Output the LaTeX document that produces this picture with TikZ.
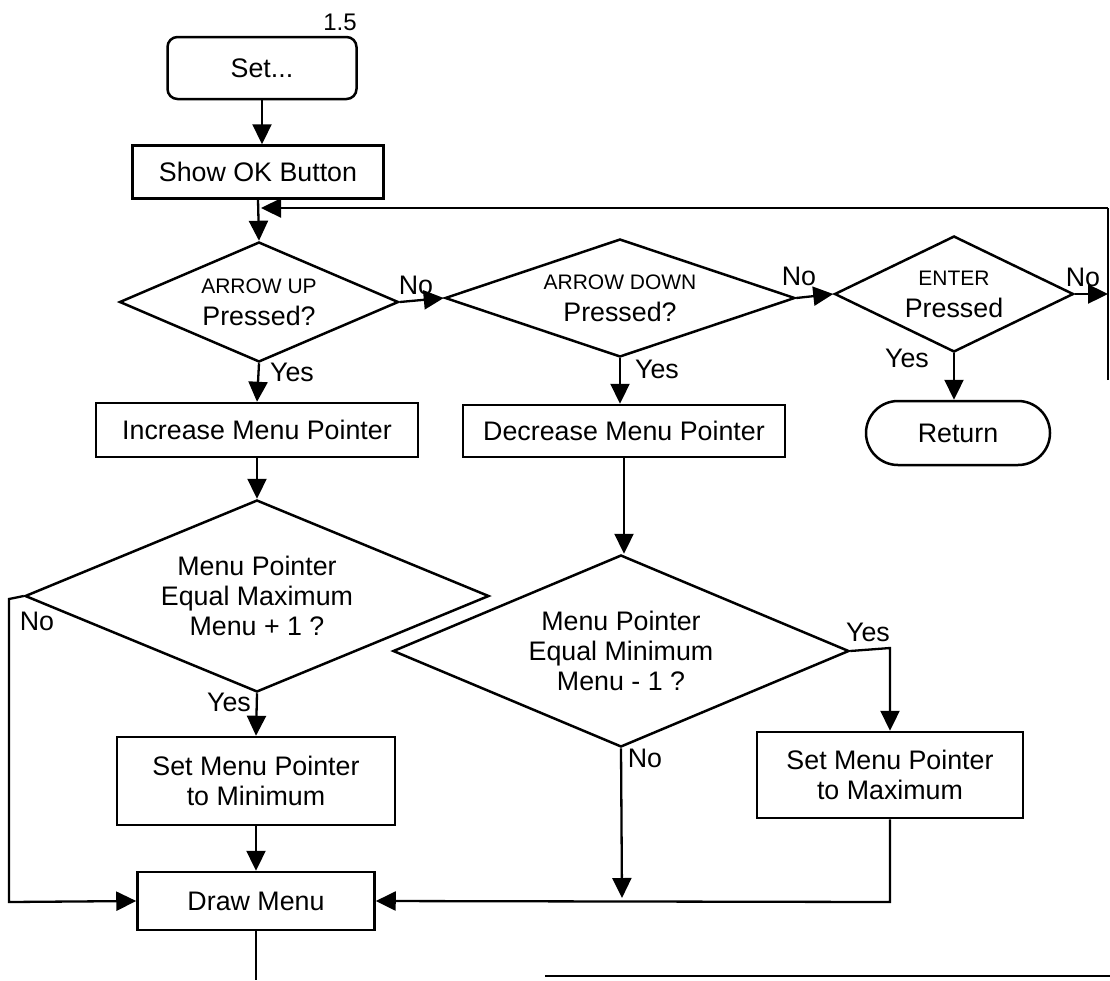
\documentclass[tikz,border=0pt]{standalone}
\usepackage{fontspec}
\setmainfont{Liberation Sans}
\usetikzlibrary{shapes.geometric,arrows.meta}
\newcommand{\mainsz}{\fontsize{26.8}{30}\selectfont}
\newcommand{\smallsz}{\fontsize{21}{24}\selectfont}
\tikzset{
  base/.style={draw=black, line width=2.5pt, inner sep=0pt, align=center, font=\mainsz},
  decision/.style={base, diamond, aspect=#1},
  flow/.style={line width=2.3pt, -{Triangle[length=20pt,width=19pt]}},
  plainline/.style={line width=2.3pt},
  lbl/.style={font=\mainsz, inner sep=0pt},
}
\begin{document}
\begin{tikzpicture}[x=1pt,y=-1pt]
\useasboundingbox (0,0) rectangle (1110,980);

% nodes
\node[base, rectangle, rounded corners=10pt, minimum width=189pt, minimum height=62pt] (set) at (262,68) {Set...};
\node[lbl, font=\fontsize{24}{27}\selectfont] (num) at (340,22) {1.5};
\node[base, rectangle, minimum width=251pt, minimum height=53pt] (show) at (258,172) {Show OK Button};

\node[decision=2.3, minimum width=279pt, minimum height=120pt] (d1) at (259,302) {{\smallsz ARROW UP}\\[2pt]Pressed?};
\node[decision=3, minimum width=350pt, minimum height=118pt] (d2) at (620,298) {{\smallsz ARROW DOWN}\\[2pt]Pressed?};
\node[decision=2, minimum width=239pt, minimum height=116pt] (d3) at (954,294) {{\smallsz ENTER}\\[2pt]Pressed};

\node[base, rectangle, minimum width=322pt, minimum height=54pt] (inc) at (257,430) {Increase Menu Pointer};
\node[base, rectangle, minimum width=322pt, minimum height=52pt] (dec) at (624,431) {Decrease Menu Pointer};
\node[base, rectangle, rounded corners=32pt, minimum width=184pt, minimum height=64pt] (ret) at (958,433) {Return};

\node[decision=2.4, minimum width=464pt, minimum height=192pt] (d4) at (257,596) {Menu Pointer\\Equal Maximum\\Menu + 1 ?};
\node[decision=2.4, minimum width=456pt, minimum height=192pt] (d5) at (621,651) {Menu Pointer\\Equal Minimum\\Menu - 1 ?};

\node[base, rectangle, minimum width=278pt, minimum height=88pt] (setmin) at (256,781) {Set Menu Pointer\\to Minimum};
\node[base, rectangle, minimum width=266pt, minimum height=86pt] (setmax) at (890,775) {Set Menu Pointer\\to Maximum};
\node[base, rectangle, minimum width=237pt, minimum height=58pt] (drawm) at (256,901) {Draw Menu};

% free ends
\coordinate (loopR) at (1108,294);
\coordinate (loopB) at (1108,380);
\coordinate (loopT) at (1108,208);
\coordinate (joinT) at (261,208);
\coordinate (leftT) at (9,599);
\coordinate (leftB) at (9,902);
\coordinate (yesC) at (890,648);
\coordinate (noEnd) at (622,898);
\coordinate (maxC) at (890,902);
\coordinate (downEnd) at (256,980);
\coordinate (botL) at (545,976);
\coordinate (botR) at (1110,976);

% connectors
\draw[flow] (set.south) -- (set.south |- show.north);
\draw[flow] (show.south) -- (d1.north);
\draw[plainline] (loopB) -- (loopT);
\draw[flow] (loopT) -- (joinT);
\draw[flow] (d1.east) -- (d2.west);
\draw[flow] (d2.east) -- (d3.west);
\draw[flow] (d3.east) -- (loopR);
\draw[flow] (d1.south) -- (inc.north);
\draw[flow] (d2.south) -- (d2.south |- dec.north);
\draw[flow] (d3.south) -- (d3.south |- ret.north);
\draw[flow] (inc.south) -- (d4.north);
\draw[flow] (dec.south) -- (dec.south |- d5.north);
\draw[flow] (d4.west) -- (leftT) -- (leftB) -- (drawm.west);
\draw[flow] (d4.south) -- (setmin.north);
\draw[flow] (setmin.south) -- (drawm.north);
\draw[flow] (d5.east) -- (yesC) -- (setmax.north);
\draw[flow] (d5.south) -- (noEnd);
\draw[flow] (setmax.south) -- (maxC) -- (drawm.east);
\draw[plainline] (drawm.south) -- (downEnd);
\draw[plainline] (botL) -- (botR);

% labels
\node[lbl] (n1) at (416,285) {No};
\node[lbl] (n2) at (799,276) {No};
\node[lbl] (n3) at (1083,277) {No};
\node[lbl] (y1) at (292,372) {Yes};
\node[lbl] (y2) at (657,369) {Yes};
\node[lbl] (y3) at (907,358) {Yes};
\node[lbl] (n4) at (37,621) {No};
\node[lbl] (y4) at (229,702) {Yes};
\node[lbl] (y5) at (868,632) {Yes};
\node[lbl] (n5) at (645,758) {No};
\end{tikzpicture}
\end{document}
